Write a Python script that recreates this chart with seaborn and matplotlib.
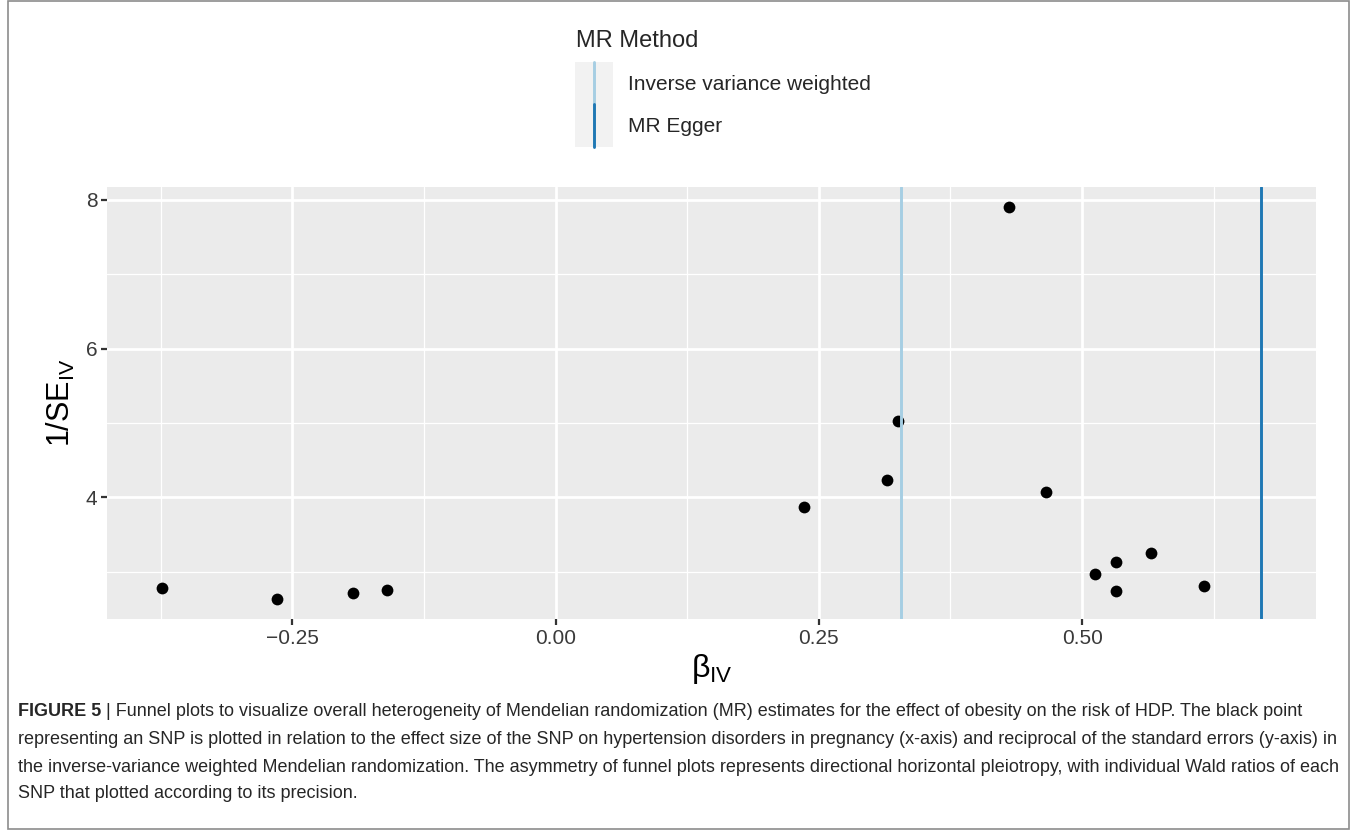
import matplotlib
matplotlib.use('Agg')
import matplotlib.pyplot as plt
import seaborn as sns
import pandas as pd
from matplotlib.ticker import MultipleLocator
from matplotlib.patches import Rectangle
from matplotlib.lines import Line2D

# SNP Wald ratios and precision
beta_iv = [-0.374, -0.265, -0.193, -0.160, 0.236, 0.315, 0.325, 0.431,
           0.466, 0.5125, 0.532, 0.532, 0.565, 0.616]
inv_se = [2.78, 2.63, 2.72, 2.76, 3.87, 4.24, 5.03, 7.91,
          4.08, 2.97, 3.13, 2.74, 3.26, 2.81]

methods = ['Inverse variance weighted', 'MR Egger']
estimates = [0.328, 0.670]
method_colors = ['#A6CEE3', '#1F78B4']

caption_bold = 'FIGURE 5'
caption_lines = [
    ' | Funnel plots to visualize overall heterogeneity of Mendelian randomization (MR) estimates for the effect of obesity on the risk of HDP. The black point',
    'representing an SNP is plotted in relation to the effect size of the SNP on hypertension disorders in pregnancy (x-axis) and reciprocal of the standard errors (y-axis) in',
    'the inverse-variance weighted Mendelian randomization. The asymmetry of funnel plots represents directional horizontal pleiotropy, with individual Wald ratios of each',
    'SNP that plotted according to its precision.',
]

df = pd.DataFrame({'beta': beta_iv, 'prec': inv_se})

sns.set_theme(style='darkgrid', rc={'axes.facecolor': '#EBEBEB', 'grid.color': 'white'})
plt.rcParams['font.family'] = ['Liberation Sans', 'DejaVu Sans']
plt.rcParams['mathtext.fontset'] = 'custom'
plt.rcParams['mathtext.rm'] = 'Liberation Sans'
plt.rcParams['mathtext.it'] = 'Liberation Sans:italic'

W, H = 1357, 831
fig = plt.figure(figsize=(W / 100, H / 100), dpi=100)
fig.patch.set_facecolor('white')


def fx(x):
    return x / W


def fy(y):
    return 1 - y / H


ax = fig.add_axes([fx(107), fy(619), fx(1316) - fx(107), fy(187) - fy(619)])

sns.scatterplot(data=df, x='beta', y='prec', ax=ax, color='black', s=72,
                edgecolor='black', linewidth=0, zorder=3)
for m, est, c in zip(methods, estimates, method_colors):
    ax.axvline(est, color=c, lw=2.1, zorder=4)

# ggplot style 5% expansion
xs = beta_iv + estimates
xr = max(xs) - min(xs)
yr = max(inv_se) - min(inv_se)
ax.set_xlim(min(xs) - 0.05 * xr, max(xs) + 0.05 * xr)
ax.set_ylim(min(inv_se) - 0.05 * yr, max(inv_se) + 0.05 * yr)

ax.xaxis.set_major_locator(MultipleLocator(0.25))
ax.xaxis.set_minor_locator(MultipleLocator(0.125))
ax.yaxis.set_major_locator(MultipleLocator(2))
ax.yaxis.set_minor_locator(MultipleLocator(1))
ax.set_xticks([-0.25, 0.0, 0.25, 0.5])
ax.set_xticklabels(['\u22120.25', '0.00', '0.25', '0.50'])
ax.set_yticks([4, 6, 8])
ax.set_yticklabels(['4', '6', '8'])
ax.grid(which='major', color='white', lw=2.0)
ax.grid(which='minor', color='white', lw=0.9)
ax.set_axisbelow(True)
for sp in ax.spines.values():
    sp.set_visible(False)
ax.tick_params(which='major', length=4, width=1.6, color='#333333',
               labelsize=15, labelcolor='#3A3A3A', pad=3, bottom=True, left=True)
ax.tick_params(which='minor', length=0)

ax.set_xlabel('\u03b2$_{\\mathregular{IV}}$', fontsize=23, labelpad=3, color='black')
ax.set_ylabel(r'1/SE$_{\mathregular{IV}}$', fontsize=22, labelpad=6, color='black')

# legend drawn like a ggplot guide
fig.text(fx(576), fy(47), 'MR Method', fontsize=17, ha='left', va='baseline')
fig.patches.append(Rectangle((fx(575), fy(147)), fx(613) - fx(575), fy(62) - fy(147),
                             transform=fig.transFigure, facecolor='#F2F2F2',
                             edgecolor='none', figure=fig))
key_y = [(62, 104), (104, 147)]
label_y = [84, 126]
for (y0, y1), ly, m, c in zip(key_y, label_y, methods, method_colors):
    fig.lines.append(Line2D([fx(594), fx(594)], [fy(y0), fy(y1)], color=c, lw=2.1,
                            transform=fig.transFigure, figure=fig))
    fig.text(fx(628), fy(ly), m, fontsize=15, ha='left', va='center')

# caption
fig.canvas.draw()
r = fig.canvas.get_renderer()
base_fs = 12
line_y = [712, 740, 767, 794]
tb = fig.text(fx(18), fy(line_y[0]), caption_bold, fontsize=base_fs, weight='bold',
              ha='left', va='center')
texts = []
for i, (ln, y) in enumerate(zip(caption_lines, line_y)):
    texts.append(fig.text(fx(18), fy(y), ln, fontsize=base_fs, ha='left', va='center'))
# fit the longest line to the printed width
w3 = texts[2].get_window_extent(r).width
fs = base_fs * 1322 / w3
tb.set_fontsize(fs)
for t in texts:
    t.set_fontsize(fs)
fig.canvas.draw()
wb = tb.get_window_extent(r).width
texts[0].set_x(fx(18 + wb))

fig.patches.append(Rectangle((fx(8), fy(829)), fx(1349) - fx(8), fy(1) - fy(829),
                             transform=fig.transFigure, facecolor='none',
                             edgecolor='#8C8C8C', lw=1.2, figure=fig))

fig.savefig('out.png', dpi=100, facecolor='white')
